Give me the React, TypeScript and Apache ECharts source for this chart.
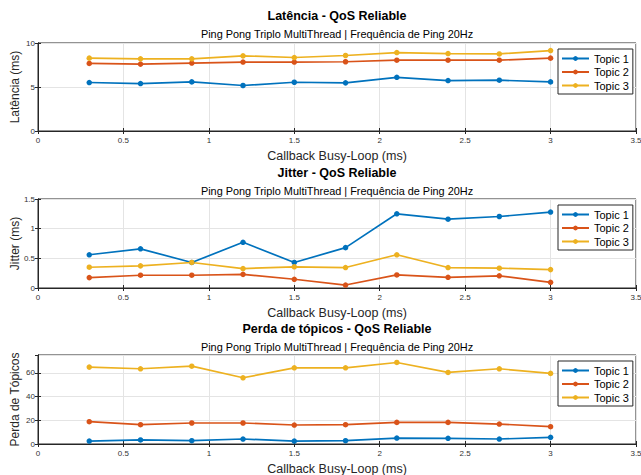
import React, { useEffect, useRef } from "react";
import * as echarts from "echarts";

// Callback busy-loop durations (ms)
const busyLoop = [0.3, 0.6, 0.9, 1.2, 1.5, 1.8, 2.1, 2.4, 2.7, 3.0];

const topicNames = ["Topic 1", "Topic 2", "Topic 3"];
const topicColors = ["#0072BD", "#D95319", "#EDB120"];

// Latência (ms)
const latencyTopic1 = [5.51, 5.39, 5.58, 5.17, 5.54, 5.47, 6.1, 5.73, 5.77, 5.58];
const latencyTopic2 = [7.68, 7.6, 7.72, 7.83, 7.83, 7.87, 8.05, 8.05, 8.05, 8.28];
const latencyTopic3 = [8.28, 8.2, 8.2, 8.54, 8.35, 8.58, 8.91, 8.8, 8.76, 9.14];

// Jitter (ms)
const jitterTopic1 = [0.56, 0.66, 0.43, 0.77, 0.43, 0.68, 1.25, 1.16, 1.205, 1.28];
const jitterTopic2 = [0.175, 0.215, 0.215, 0.23, 0.147, 0.05, 0.22, 0.18, 0.205, 0.096];
const jitterTopic3 = [0.35, 0.373, 0.43, 0.328, 0.357, 0.345, 0.56, 0.345, 0.334, 0.31];

// Perda de tópicos
const lossTopic1 = [2.5, 3.4, 2.8, 4.2, 2.5, 2.8, 5.0, 4.8, 4.2, 5.6];
const lossTopic2 = [18.8, 16.3, 17.7, 17.7, 16.0, 16.3, 18.2, 18.2, 16.8, 14.6];
const lossTopic3 = [64.8, 63.4, 65.6, 55.8, 64.2, 64.2, 68.7, 60.3, 63.4, 59.5];

const titles = [
  "Latência - QoS Reliable",
  "Jitter - QoS Reliable",
  "Perda de tópicos - QoS Reliable",
];
const subtitle = "Ping Pong Triplo MultiThread | Frequência de Ping 20Hz";
const xAxisName = "Callback Busy-Loop (ms)";
const yAxisNames = ["Latência (ms)", "Jitter (ms)", "Perda de Tópicos"];
const yRanges = [
  { max: 10, interval: 5 },
  { max: 1.5, interval: 0.5 },
  { max: 75, interval: 20 },
];

const FONT = "'Liberation Sans', Arial, Helvetica, sans-serif";
const AXIS = "#262626";
const GRID_LINE = "#e4e4e4";

const panels = [
  { top: 43, height: 88, titleY: 16, subY: 34, legendTop: 49 },
  { top: 199, height: 89, titleY: 173, subY: 191, legendTop: 205 },
  { top: 355, height: 89, titleY: 329, subY: 347, legendTop: 361 },
];
const plotLeft = 38;
const plotWidth = 598;

const seriesValues = [
  [latencyTopic1, latencyTopic2, latencyTopic3],
  [jitterTopic1, jitterTopic2, jitterTopic3],
  [lossTopic1, lossTopic2, lossTopic3],
];

export default function App() {
  const ref = useRef<HTMLDivElement>(null);

  useEffect(() => {
    if (!ref.current) return;
    const chart = echarts.init(ref.current, null, { renderer: "svg" });

    const grid: any[] = [];
    const xAxis: any[] = [];
    const yAxis: any[] = [];
    const series: any[] = [];
    const legend: any[] = [];
    const graphic: any[] = [];

    panels.forEach((p, i) => {
      grid.push({
        left: plotLeft,
        top: p.top,
        width: plotWidth,
        height: p.height,
        outerBoundsMode: "none",
        containLabel: false,
        show: true,
        borderColor: AXIS,
        borderWidth: 1,
        backgroundColor: "#fff",
      });

      const baseX = {
        type: "value",
        gridIndex: i,
        min: 0,
        max: 3.5,
        interval: 0.5,
        axisLine: { show: true, lineStyle: { color: AXIS, width: 1 } },
        axisTick: { show: true, inside: true, length: 3, lineStyle: { color: AXIS } },
      };
      xAxis.push({
        ...baseX,
        position: "bottom",
        name: xAxisName,
        nameLocation: "middle",
        nameGap: 18,
        nameMoveOverlap: false,
        nameTextStyle: { fontFamily: FONT, fontSize: 12.5, color: AXIS },
        axisLabel: { fontFamily: FONT, fontSize: 8, color: "#333", margin: 5 },
        splitLine: { show: true, lineStyle: { color: GRID_LINE, width: 1 } },
      });
      xAxis.push({
        ...baseX,
        position: "top",
        axisLabel: { show: false },
        splitLine: { show: false },
      });

      const r = yRanges[i];
      const baseY = {
        type: "value",
        gridIndex: i,
        min: 0,
        max: r.max,
        interval: r.interval,
        axisLine: { show: true, lineStyle: { color: AXIS, width: 1 } },
        axisTick: { show: true, inside: true, length: 3, lineStyle: { color: AXIS } },
      };
      yAxis.push({
        ...baseY,
        position: "left",
        name: yAxisNames[i],
        nameLocation: "middle",
        nameGap: 17,
        nameMoveOverlap: false,
        nameTextStyle: { fontFamily: FONT, fontSize: 12, color: AXIS },
        axisLabel: {
          fontFamily: FONT,
          fontSize: 8,
          color: "#333",
          margin: 3,
          showMaxLabel: r.max % r.interval === 0,
        },
        splitLine: { show: true, lineStyle: { color: GRID_LINE, width: 1 } },
      });
      yAxis.push({
        ...baseY,
        position: "right",
        axisLabel: { show: false },
        splitLine: { show: false },
      });

      topicNames.forEach((name, k) => {
        series.push({
          type: "line",
          name,
          xAxisIndex: i * 2,
          yAxisIndex: i * 2,
          data: busyLoop.map((x, j) => [x, seriesValues[i][k][j]]),
          symbol: "circle",
          symbolSize: 5.5,
          color: topicColors[k],
          lineStyle: { width: 1.7, color: topicColors[k] },
          itemStyle: { color: topicColors[k] },
          z: 3,
        });
      });

      legend.push({
        data: topicNames,
        orient: "vertical",
        left: 558,
        top: p.legendTop,
        itemWidth: 27,
        itemHeight: 6,
        itemGap: 2.5,
        padding: [4, 4, 3, 3],
        borderColor: AXIS,
        borderWidth: 1,
        backgroundColor: "#fff",
        textStyle: { fontFamily: FONT, fontSize: 11, color: "#000" },
        selectedMode: false,
      });

      graphic.push({
        type: "text",
        x: plotLeft + plotWidth / 2,
        y: p.titleY,
        style: {
          text: titles[i],
          font: `bold 12.5px ${FONT}`,
          fill: "#000",
          align: "center",
          verticalAlign: "middle",
        },
      });
      graphic.push({
        type: "text",
        x: plotLeft + plotWidth / 2,
        y: p.subY,
        style: {
          text: subtitle,
          font: `10.9px ${FONT}`,
          fill: "#000",
          align: "center",
          verticalAlign: "middle",
        },
      });
    });

    chart.setOption({
      animation: false,
      backgroundColor: "#fff",
      grid,
      xAxis,
      yAxis,
      series,
      legend,
      graphic,
    });

    return () => chart.dispose();
  }, []);

  return (
    <div
      ref={ref}
      style={{ position: "fixed", left: 0, top: 0, width: 641, height: 475 }}
    />
  );
}
